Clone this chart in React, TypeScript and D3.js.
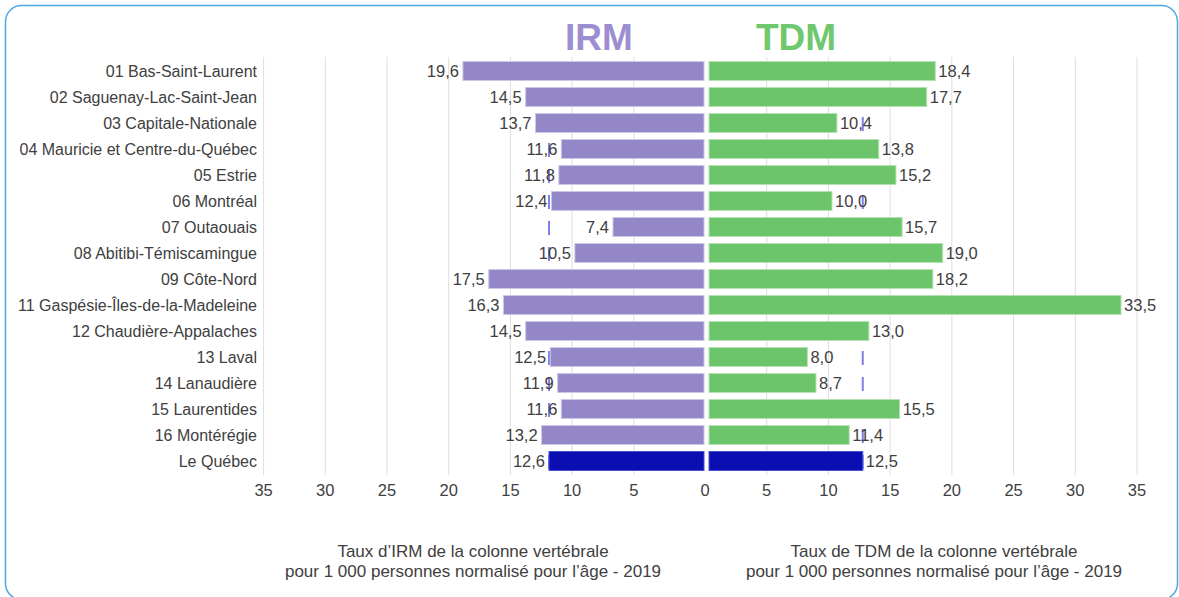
import React from "react";
import * as d3 from "d3";

const WIDTH = 1179;
const HEIGHT = 597;

const regions = [
  "01 Bas-Saint-Laurent",
  "02 Saguenay-Lac-Saint-Jean",
  "03 Capitale-Nationale",
  "04 Mauricie et Centre-du-Québec",
  "05 Estrie",
  "06 Montréal",
  "07 Outaouais",
  "08 Abitibi-Témiscamingue",
  "09 Côte-Nord",
  "11 Gaspésie-Îles-de-la-Madeleine",
  "12 Chaudière-Appalaches",
  "13 Laval",
  "14 Lanaudière",
  "15 Laurentides",
  "16 Montérégie",
  "Le Québec",
];
const irm = [19.6, 14.5, 13.7, 11.6, 11.8, 12.4, 7.4, 10.5, 17.5, 16.3, 14.5, 12.5, 11.9, 11.6, 13.2, 12.6];
const tdm = [18.4, 17.7, 10.4, 13.8, 15.2, 10.0, 15.7, 19.0, 18.2, 33.5, 13.0, 8.0, 8.7, 15.5, 11.4, 12.5];
const leftTicks = [35, 30, 25, 20, 15, 10, 5];
const rightTicks = [0, 5, 10, 15, 20, 25, 30, 35];
const IRM_QC = 12.6;
const TDM_QC = 12.5;

const PURPLE = "#9487c7";
const GREEN = "#6dc56b";
const DARK = "#0b0fb2";
const TEXT = "#404040";
const FONT = "'Liberation Sans', Arial, sans-serif";

const fmt = (v: number) => v.toFixed(1).replace(".", ",");

export default function App() {
  const y = d3.scaleBand<string>().domain(regions).range([58.9, 473.1]).paddingInner(0.27).paddingOuter(0.1);
  const xL = d3.scaleLinear().domain([0, 35]).range([704, 273.5]);
  const xR = d3.scaleLinear().domain([0, 35]).range([709, 1139.5]);
  const gridL = d3.scaleLinear().domain([0, 35]).range([695.5, 263.6]);
  const gridR = d3.scaleLinear().domain([0, 35]).range([705, 1137]);
  const bw = y.bandwidth();
  const last = regions.length - 1;

  const gridTop = 57;
  const gridBottom = 475;

  return (
    <svg width={WIDTH} height={HEIGHT} style={{ position: "absolute", left: 0, top: 0 }} fontFamily={FONT}>
      <rect x={5.5} y={5.5} width={1172} height={594} rx={16} fill="#fff" stroke="#4aa9e1" strokeWidth={1.5} />

      <text x={599} y={50} textAnchor="middle" fontSize={37} fontWeight="bold" fill="#9b8fd2">IRM</text>
      <text x={796} y={50} textAnchor="middle" fontSize={37} fontWeight="bold" fill="#6fc86d">TDM</text>

      {leftTicks.map((t) => (
        <line key={"gl" + t} x1={gridL(t)} x2={gridL(t)} y1={gridTop} y2={gridBottom} stroke="#dedede" strokeWidth={1} />
      ))}
      {rightTicks.filter((t) => t > 0).map((t) => (
        <line key={"gr" + t} x1={gridR(t)} x2={gridR(t)} y1={gridTop} y2={gridBottom} stroke="#dedede" strokeWidth={1} />
      ))}

      {/* moyenne du Québec */}
      <line x1={xL(IRM_QC)} x2={xL(IRM_QC)} y1={gridTop} y2={gridBottom - 5} stroke="#7f7fe6" strokeWidth={2} strokeDasharray="14,12" strokeDashoffset={-8} />
      <line x1={xR(TDM_QC)} x2={xR(TDM_QC)} y1={gridTop} y2={gridBottom - 5} stroke="#7f7fe6" strokeWidth={2} strokeDasharray="14,12" strokeDashoffset={-8} />

      {regions.map((r, i) => {
        const yy = y(r) as number;
        const cy = yy + bw / 2;
        return (
          <g key={r}>
            <rect x={xL(irm[i])} y={yy} width={xL(0) - xL(irm[i])} height={bw}
              fill={i === last ? DARK : PURPLE} stroke={i === last ? "#4a4fd0" : "#cdc6e6"} strokeWidth={1} />
            <rect x={xR(0)} y={yy} width={xR(tdm[i]) - xR(0)} height={bw}
              fill={i === last ? DARK : GREEN} stroke={i === last ? "#4a4fd0" : "#b4e3b2"} strokeWidth={1} />
            <text x={257} y={cy} dy="0.35em" textAnchor="end" fontSize={16} fill={TEXT}>{r}</text>
            <text x={xL(irm[i]) - 4} y={cy} dy="0.35em" textAnchor="end" fontSize={16.5} fill={TEXT}>{fmt(irm[i])}</text>
            <text x={xR(tdm[i]) + 3} y={cy} dy="0.35em" textAnchor="start" fontSize={16.5} fill={TEXT}>{fmt(tdm[i])}</text>
          </g>
        );
      })}

      {leftTicks.map((t) => (
        <text key={"tl" + t} x={gridL(t)} y={490} dy="0.35em" textAnchor="middle" fontSize={16.5} fill={TEXT}>{t}</text>
      ))}
      {rightTicks.map((t) => (
        <text key={"tr" + t} x={gridR(t)} y={490} dy="0.35em" textAnchor="middle" fontSize={16.5} fill={TEXT}>{t}</text>
      ))}

      <text x={473} y={557} textAnchor="middle" fontSize={17} fill={TEXT}>Taux d’IRM de la colonne vertébrale</text>
      <text x={473} y={577} textAnchor="middle" fontSize={17} fill={TEXT}>pour 1 000 personnes normalisé pour l’âge - 2019</text>
      <text x={934} y={557} textAnchor="middle" fontSize={17} fill={TEXT}>Taux de TDM de la colonne vertébrale</text>
      <text x={934} y={577} textAnchor="middle" fontSize={17} fill={TEXT}>pour 1 000 personnes normalisé pour l’âge - 2019</text>
    </svg>
  );
}
